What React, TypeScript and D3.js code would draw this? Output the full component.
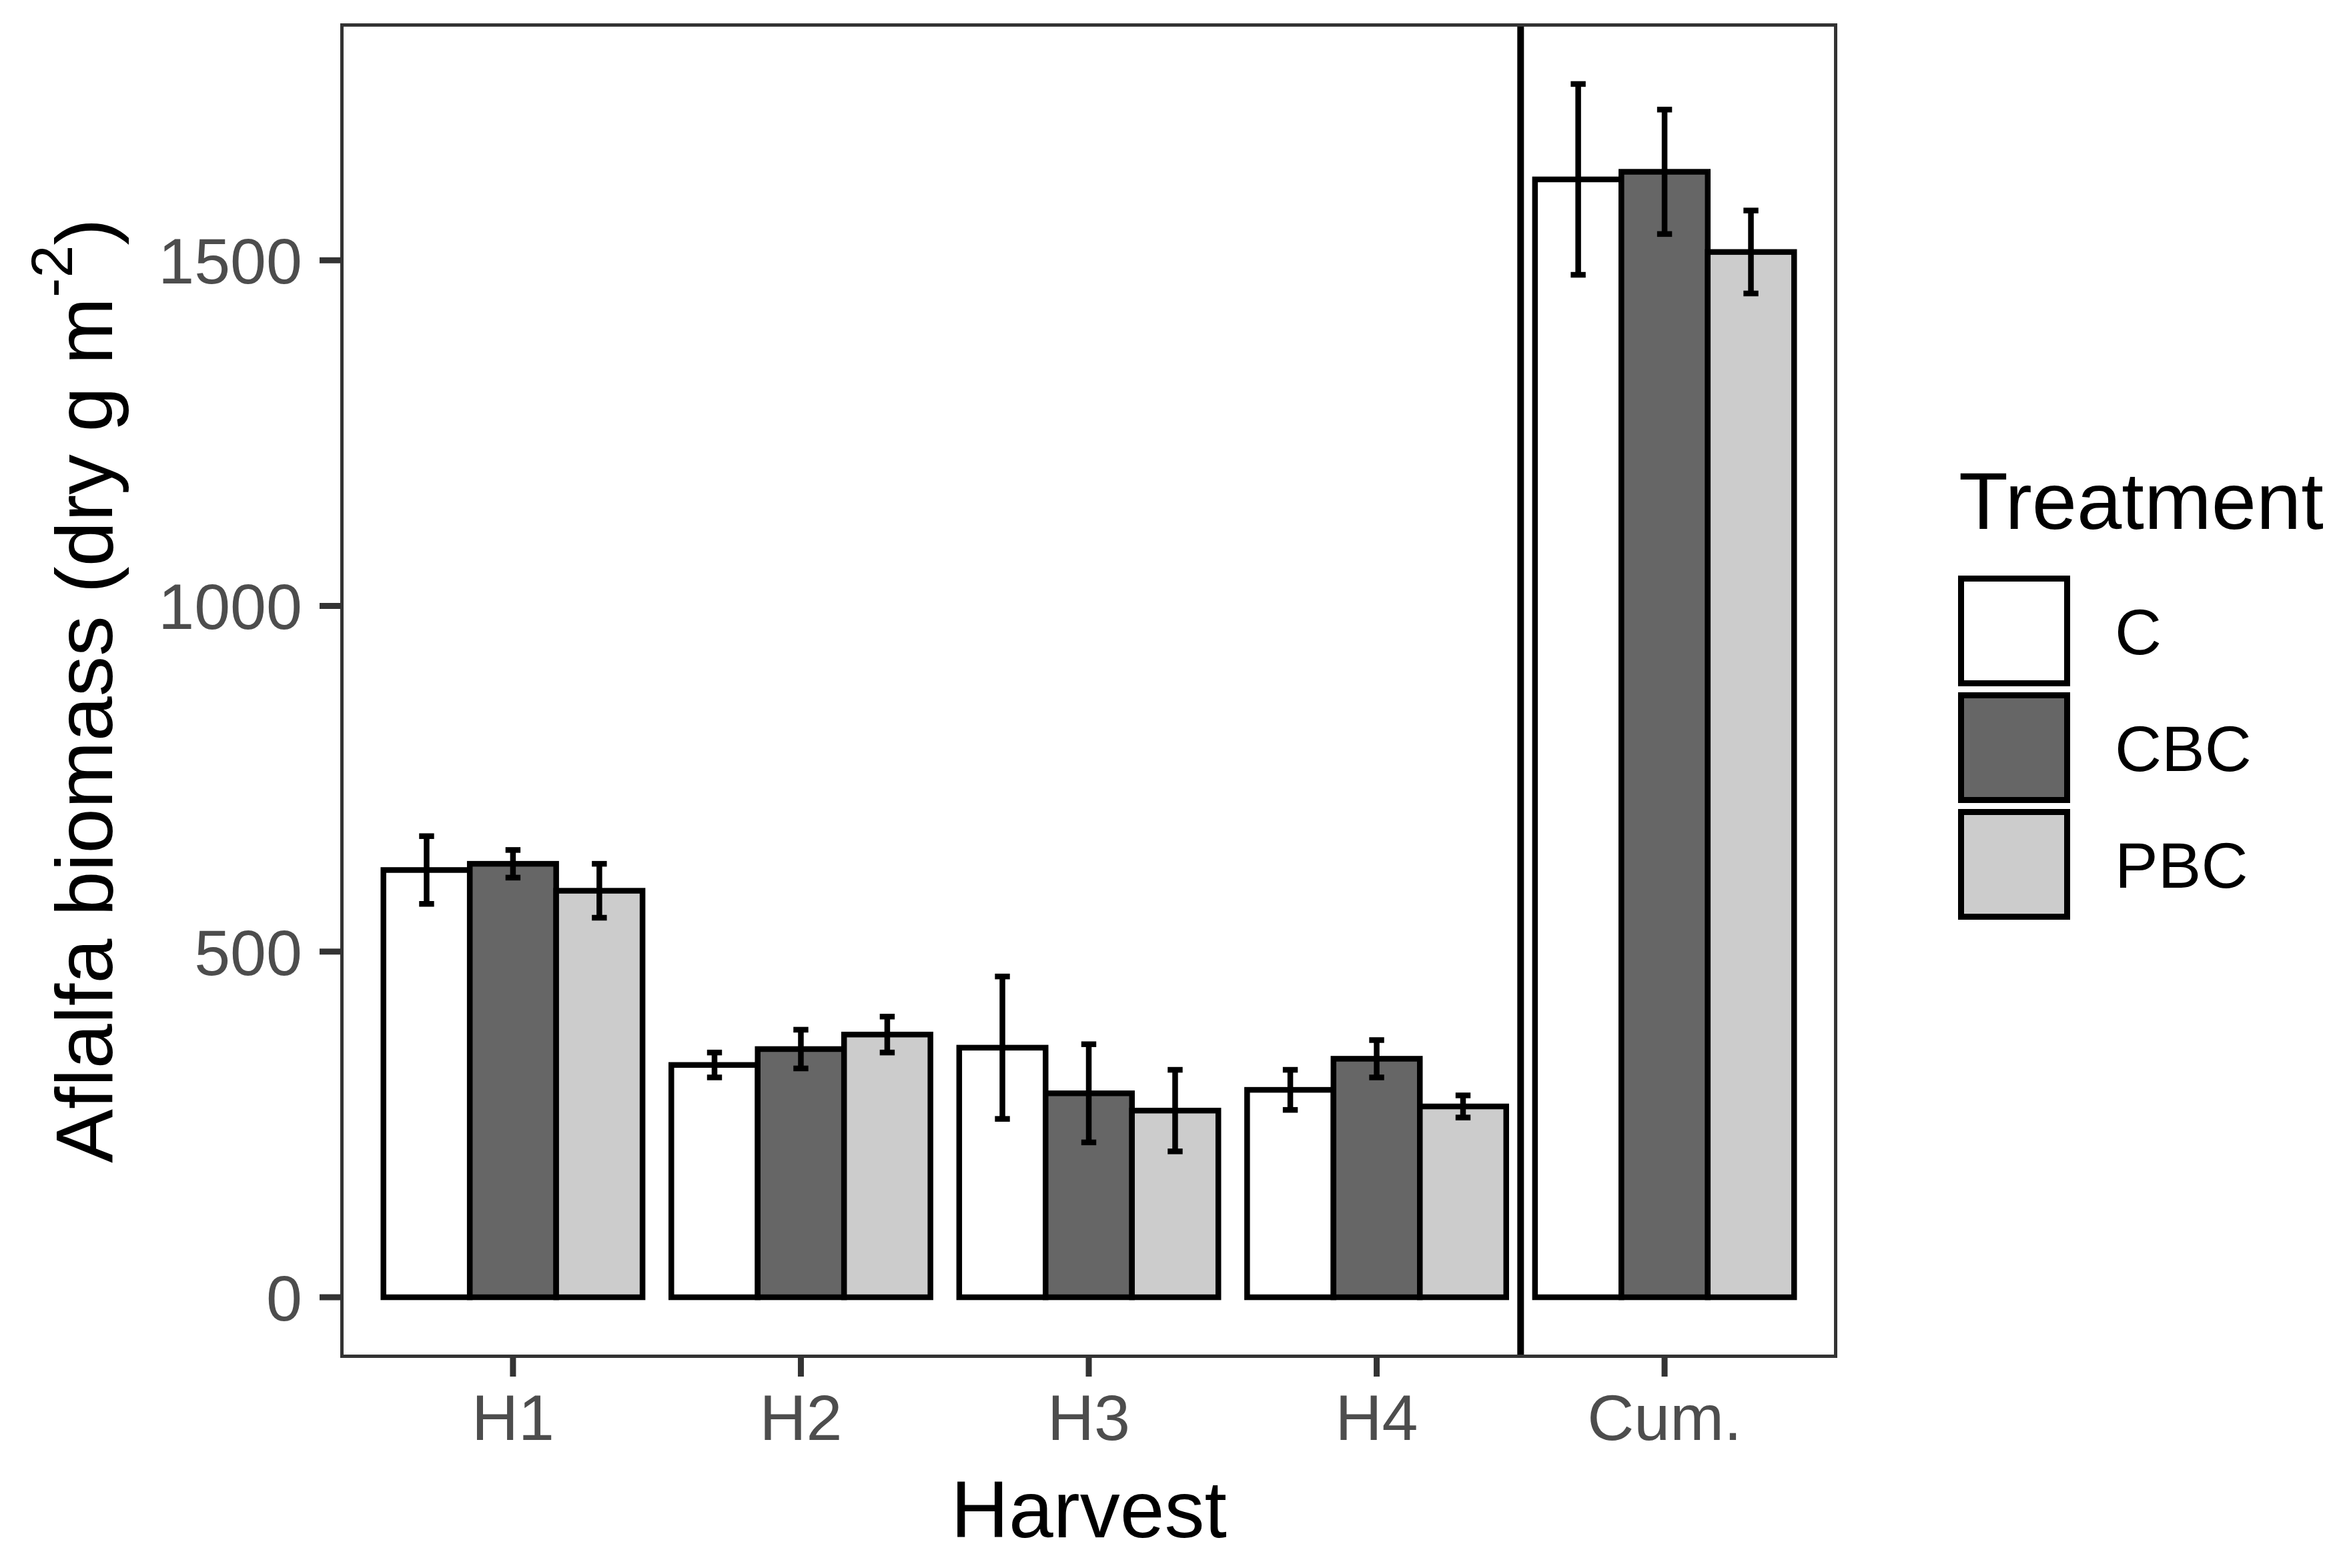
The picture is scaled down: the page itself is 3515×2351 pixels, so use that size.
import React from "react";
import * as d3 from "d3";

const harvests = ["H1", "H2", "H3", "H4", "Cum."];
const treatments = ["C", "CBC", "PBC"];
const fills = ["#FFFFFF", "#666666", "#CCCCCC"];
const meanC = [618, 336, 361, 300, 1617];
const meanCBC = [627, 359, 295, 345, 1628];
const meanPBC = [588, 380, 270, 276, 1512];
const seC = [49, 18, 103, 29, 138];
const seCBC = [20, 28, 71, 27, 90];
const sePBC = [39, 26, 59, 16, 60];
const yTicks = [0, 500, 1000, 1500];

const W = 3515;
const H = 2351;
const panel = { x0: 510, x1: 2754, y0: 35, y1: 2036 };
const FONT = "'Liberation Sans', Arial, Helvetica, sans-serif";

export default function App() {
  const means = [meanC, meanCBC, meanPBC];
  const ses = [seC, seCBC, sePBC];
  const rows = harvests.flatMap((h, i) =>
    treatments.map((t, j) => ({ h, t, j, mean: means[j][i], se: ses[j][i] }))
  );
  const maxV = d3.max(rows, (r) => r.mean + r.se) as number;
  const ext = 0.05 * maxV;
  const y = d3.scaleLinear().domain([-ext, maxV + ext]).range([panel.y1, panel.y0]);
  const x = d3
    .scaleBand<string>()
    .domain(harvests)
    .range([panel.x0, panel.x1])
    .paddingInner(0)
    .paddingOuter(0.1);
  const step = x.step();
  const xi = d3
    .scaleBand<string>()
    .domain(treatments)
    .range([-0.45 * step, 0.45 * step])
    .padding(0);
  const center = (h: string) => (x(h) as number) + x.bandwidth() / 2;
  const capHalf = 0.026 * step;
  const divX = center("H4") + step / 2;

  const keyTop = 863;
  const keyStep = 175;
  const keyH = 166;
  const keyX = 2935;
  const keyW = 168;

  return (
    <svg
      width={W}
      height={H}
      style={{ position: "absolute", left: 0, top: 0, background: "#fff" }}
      fontFamily={FONT}
    >
      <rect x={0} y={0} width={W} height={H} fill="#fff" />
      <defs>
        <clipPath id="pclip">
          <rect x={panel.x0} y={panel.y0} width={panel.x1 - panel.x0} height={panel.y1 - panel.y0} />
        </clipPath>
      </defs>
      {/* bars */}
      {rows.map((r, k) => {
        const bx = center(r.h) + (xi(r.t) as number);
        return (
          <rect
            key={"b" + k}
            x={bx}
            y={y(r.mean)}
            width={xi.bandwidth()}
            height={y(0) - y(r.mean)}
            fill={fills[r.j]}
            stroke="#000"
            strokeWidth={8.5}
            strokeLinejoin="miter"
          />
        );
      })}
      {/* error bars */}
      {rows.map((r, k) => {
        const cx = center(r.h) + (xi(r.t) as number) + xi.bandwidth() / 2;
        const yt = y(r.mean + r.se);
        const yb = y(r.mean - r.se);
        return (
          <g key={"e" + k} stroke="#000" strokeWidth={8.5} fill="none">
            <line x1={cx} x2={cx} y1={yt} y2={yb} />
            <line x1={cx - capHalf} x2={cx + capHalf} y1={yt} y2={yt} />
            <line x1={cx - capHalf} x2={cx + capHalf} y1={yb} y2={yb} />
          </g>
        );
      })}
      {/* divider */}
      <line x1={divX} x2={divX} y1={panel.y0} y2={panel.y1} stroke="#000" strokeWidth={10} />
      {/* panel border (clipped, half visible) */}
      <rect
        x={panel.x0}
        y={panel.y0}
        width={panel.x1 - panel.x0}
        height={panel.y1 - panel.y0}
        fill="none"
        stroke="#333333"
        strokeWidth={10}
        clipPath="url(#pclip)"
      />
      {/* y axis */}
      {yTicks.map((t) => (
        <g key={"yt" + t}>
          <line x1={panel.x0 - 31} x2={panel.x0} y1={y(t)} y2={y(t)} stroke="#333333" strokeWidth={9} />
          <text
            x={453}
            y={y(t)}
            dy="0.36em"
            textAnchor="end"
            fontSize={97}
            fill="#4D4D4D"
          >
            {t}
          </text>
        </g>
      ))}
      {/* x axis */}
      {harvests.map((h) => (
        <g key={"xt" + h}>
          <line x1={center(h)} x2={center(h)} y1={panel.y1} y2={panel.y1 + 28} stroke="#333333" strokeWidth={9} />
          <text x={center(h)} y={2159} textAnchor="middle" fontSize={97} fill="#4D4D4D">
            {h}
          </text>
        </g>
      ))}
      {/* axis titles */}
      <text x={(panel.x0 + panel.x1) / 2} y={2305} textAnchor="middle" fontSize={120} fill="#000">
        Harvest
      </text>
      <text
        transform={`translate(168, ${(panel.y0 + panel.y1) / 2}) rotate(-90)`}
        textAnchor="middle"
        fontSize={121}
        fill="#000"
      >
        Aflalfa biomass (dry g m
        <tspan fontSize={88} dy={-60}>-2</tspan>
        <tspan dy={60}>)</tspan>
      </text>
      {/* legend */}
      <text x={2936} y={793} fontSize={121} fill="#000">
        Treatment
      </text>
      {treatments.map((t, j) => {
        const top = keyTop + j * keyStep;
        return (
          <g key={"lg" + t}>
            <rect
              x={keyX + 4.5}
              y={top + 4.5}
              width={keyW - 9}
              height={keyH - 9}
              fill={fills[j]}
              stroke="#000"
              strokeWidth={9}
            />
            <text x={3170} y={top + keyH / 2} dy="0.36em" fontSize={97} fill="#000">
              {t}
            </text>
          </g>
        );
      })}
    </svg>
  );
}
